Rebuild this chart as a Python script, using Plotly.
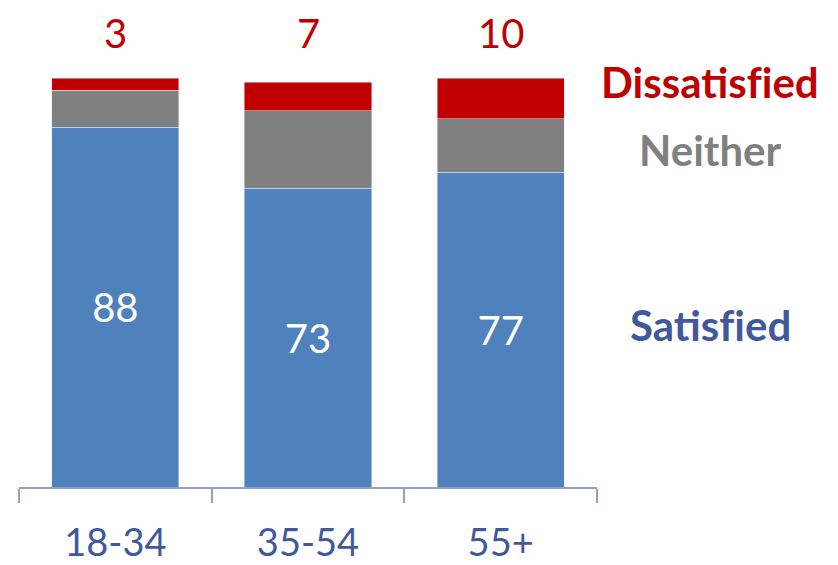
import plotly.graph_objects as go

# Survey results by age group (percent)
age_groups = ["18-34", "35-54", "55+"]
satisfied = [88, 73, 77]
neither = [9, 19, 13]
dissatisfied = [3, 7, 10]

BLUE = "#4F81BD"
GREY = "#808080"
RED = "#C00000"
LABEL_BLUE = "#41589B"
AXIS = "#8FA2C9"
FONT = "Lato"
ZWNJ = "\u200c"        # keeps "f" and "i" as separate glyphs

W, H = 838, 565
axis_px = 487          # y pixel of the category axis line
top_px = 78            # y pixel of the 100% level
y_max = 100 * axis_px / (axis_px - top_px)

fig = go.Figure()
fig.add_bar(x=age_groups, y=satisfied, name="Satisfied", marker_color=BLUE,
            text=[str(v) for v in satisfied], textposition="inside",
            insidetextanchor="middle",
            textfont=dict(family=FONT, size=40, color="white"))
fig.add_bar(x=age_groups, y=neither, name="Neither", marker_color=GREY)
fig.add_bar(x=age_groups, y=dissatisfied, name="Dissatisfied", marker_color=RED)

# Dissatisfied shares shown in a row above the bars
for cat, v in zip(age_groups, dissatisfied):
    fig.add_annotation(x=cat, y=1 - 33 / H, xref="x", yref="paper",
                       text=str(v), showarrow=False,
                       xanchor="center", yanchor="middle",
                       font=dict(family=FONT, size=40, color=RED))

# Series names on the right, level with their segments
series_labels = [("Dissatisfied", RED, 82), ("Neither", GREY, 150), ("Satisfied", LABEL_BLUE, 325)]
for txt, col, ypx in series_labels:
    fig.add_annotation(x=710 / W, y=1 - ypx / H, xref="paper", yref="paper",
                       text=f"<b>{txt.replace('fi', 'f' + ZWNJ + 'i')}</b>", showarrow=False,
                       xanchor="center", yanchor="middle",
                       font=dict(family=FONT, size=42, color=col))

fig.update_layout(
    barmode="stack",
    bargap=0.34,
    width=W, height=H,
    margin=dict(l=0, r=0, t=0, b=0, autoexpand=False),
    paper_bgcolor="white",
    plot_bgcolor="white",
    showlegend=False,
    xaxis=dict(
        domain=[19 / W, 597 / W],
        type="category",
        range=[-0.5, 2.5],
        automargin=False,
        showline=True, linecolor=AXIS, linewidth=2,
        ticks="outside", tickson="boundaries", ticklen=14, tickcolor=AXIS, tickwidth=2,
        ticklabelstandoff=21,
        tickfont=dict(family=FONT, size=38, color=LABEL_BLUE),
        showgrid=False,
    ),
    yaxis=dict(
        domain=[(H - axis_px) / H, 1],
        range=[0, y_max],
        visible=False,
        automargin=False,
        showgrid=False,
    ),
)

fig.write_html("out.html")
